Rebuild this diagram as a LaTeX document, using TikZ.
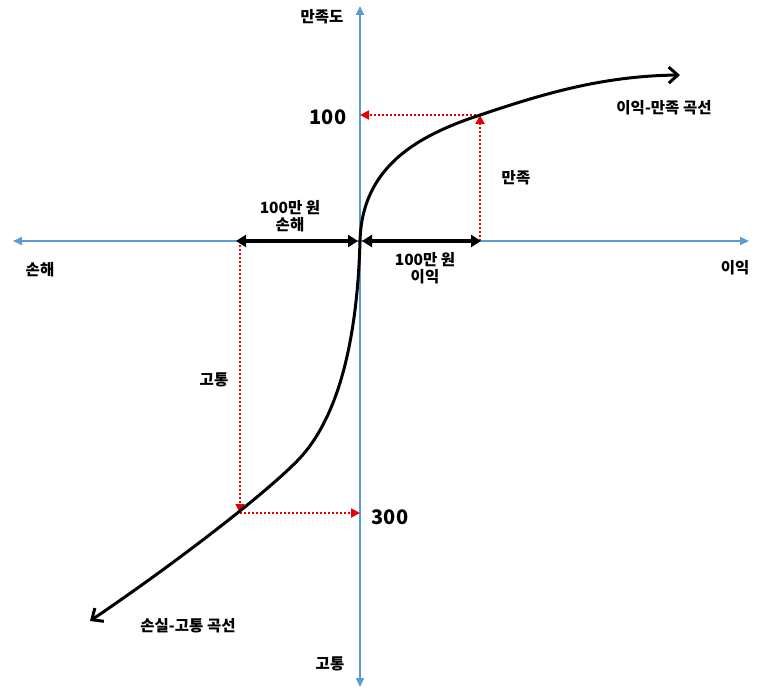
\documentclass[tikz,border=0pt]{standalone}
\usepackage{fontspec}
\setmainfont{Noto Sans CJK KR}
\usetikzlibrary{arrows.meta}
\definecolor{axisblue}{RGB}{91,155,213}
\definecolor{dotred}{RGB}{230,0,0}
\tikzset{
  axis/.style={draw=axisblue, line width=1.6pt, -{Triangle[length=9pt,width=8pt]}},
  curve/.style={draw=black, line width=3pt, -{Straight Barb[length=9pt,width=16pt,line width=3pt]}},
  guide/.style={draw=dotred, line width=1.8pt, dash pattern=on 2pt off 2pt, -{Triangle[length=9pt,width=9pt]}},
  span/.style={draw=black, line width=3.2pt, {Triangle[length=10pt,width=12pt]}-{Triangle[length=10pt,width=12pt]}},
  lbl/.style={font=\fontsize{15.5}{18}\selectfont\bfseries, align=center, inner sep=0pt},
  num/.style={font=\fontsize{20}{22}\selectfont\bfseries, inner sep=0pt}
}
\begin{document}
\begin{tikzpicture}[x=1pt,y=-1pt]
\useasboundingbox (0,0) rectangle (760,690);
% coordinates
\coordinate (O) at (360,241);
\coordinate (ytop) at (360,6);
\coordinate (ybot) at (360,687);
\coordinate (xl) at (13,241);
\coordinate (xr) at (749,241);
\coordinate (P) at (480,115);
\coordinate (Py) at (360,115);
\coordinate (Px) at (480,241);
\coordinate (Q) at (240,513);
\coordinate (Qy) at (360,513);
\coordinate (Qx) at (240,241);
\coordinate (Uend) at (680,75);
\coordinate (Lend) at (90,621);
% axes
\draw[axis] (O) -- (ytop);
\draw[axis] (O) -- (ybot);
\draw[axis] (O) -- (xl);
\draw[axis] (O) -- (xr);
% guides
\draw[guide] (Px) -- (P);
\draw[guide] (P) -- (Py);
\draw[guide] (Qx) -- (Q);
\draw[guide] (Q) -- (Qy);
% spans
\draw[span] (236,241) -- (358,241);
\draw[span] (362,241) -- (481,241);
% curves
\draw[curve] (O) .. controls (362,165) and (420,135) .. (P)
  .. controls (540,95) and (600,76) .. (Uend);
\draw[curve] (O) .. controls (357,350) and (335,420) .. (300,458)
  .. controls (270,490) and (180,560) .. (Lend);
% labels
\node[lbl] (ylab) at (322,17) {만족도};
\node[num] (n100) at (328,117) {100};
\node[lbl] (manjok) at (516,178) {만족};
\node[lbl] (loss) at (290,216) {100만 원\\[-1pt]손해};
\node[lbl] (gain) at (425,268) {100만 원\\[-1pt]이익};
\node[lbl] (sonhae) at (40,270) {손해};
\node[lbl] (iik) at (735,268) {이익};
\node[lbl] (gotong) at (214,380) {고통};
\node[num] (n300) at (390,517) {300};
\node[lbl] (lcurve) at (188,626) {손실-고통 곡선};
\node[lbl] (ybotlab) at (330,664) {고통};
\node[lbl] (ucurve) at (664,108) {이익-만족 곡선};
\end{tikzpicture}
\end{document}
